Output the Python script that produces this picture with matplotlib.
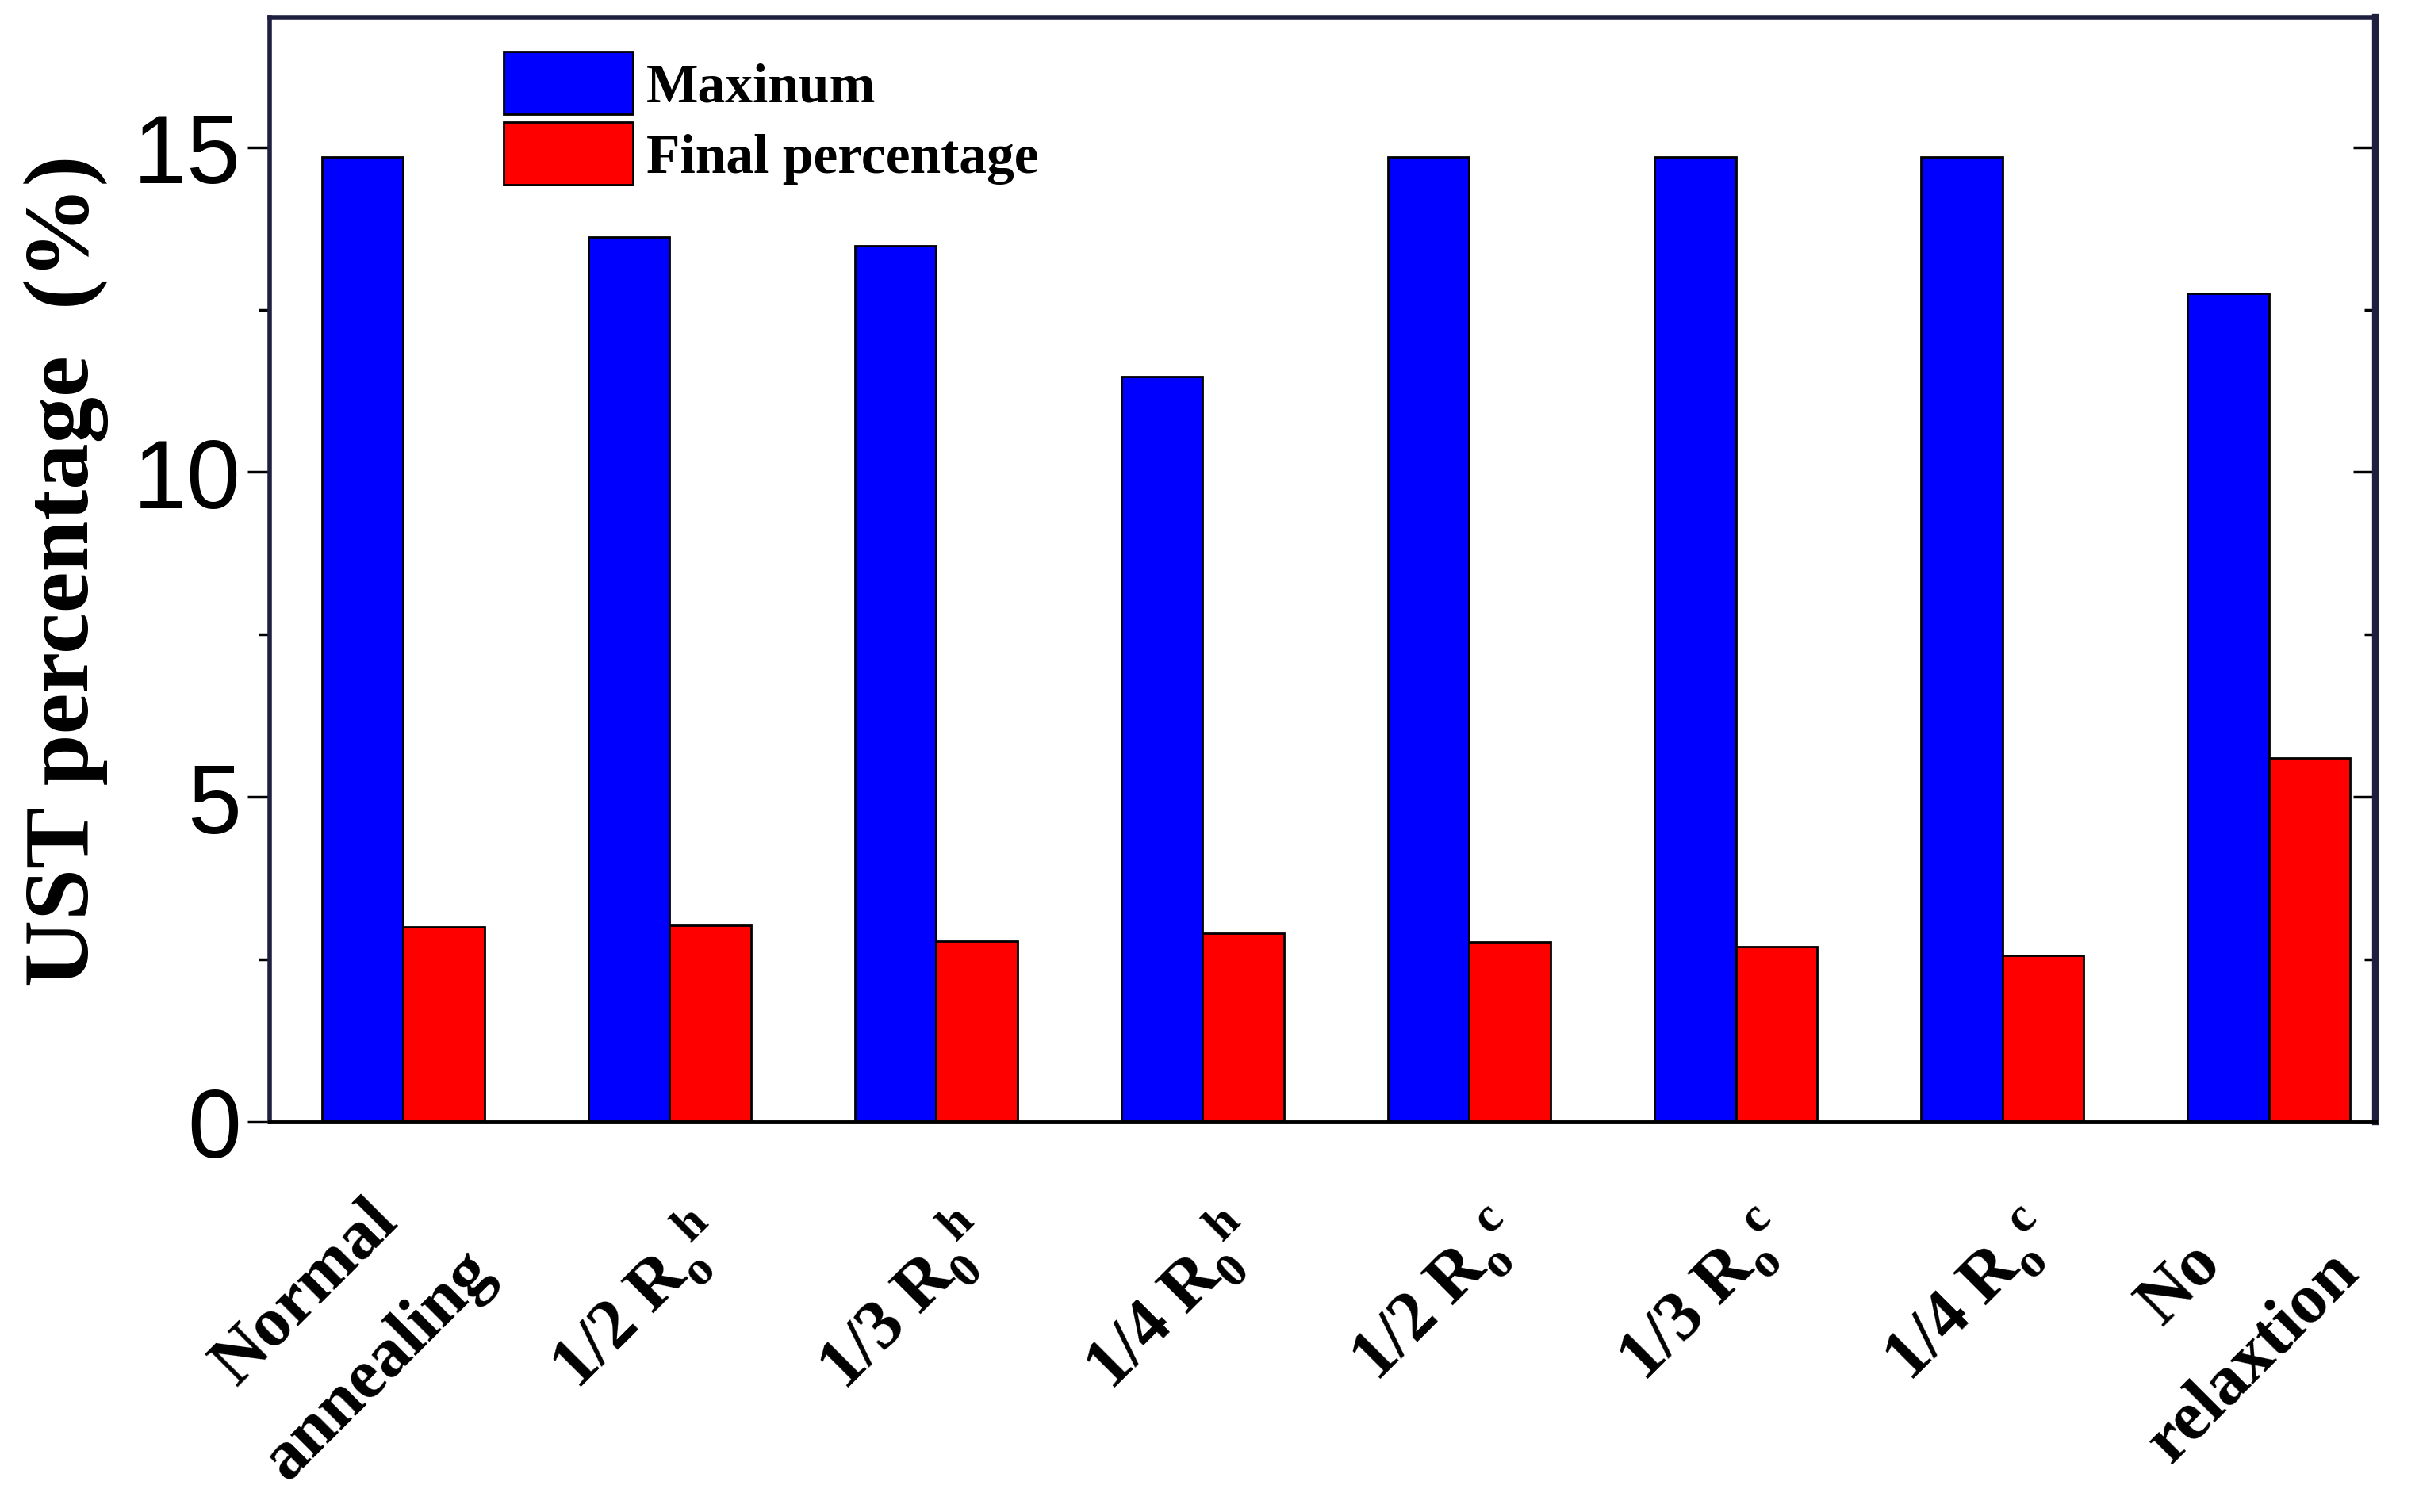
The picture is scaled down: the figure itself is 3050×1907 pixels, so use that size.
import matplotlib
matplotlib.use("Agg")
import matplotlib.pyplot as plt
import matplotlib.transforms as mtransforms
import numpy as np

categories = [
    "Normal\nannealing",
    r"1/2 R$_\mathrm{o}^{\ \ \mathrm{h}}$",
    r"1/3 R$_\mathrm{0}^{\ \ \mathrm{h}}$",
    r"1/4 R$_\mathrm{0}^{\ \ \mathrm{h}}$",
    r"1/2 R$_\mathrm{o}^{\ \ \mathrm{c}}$",
    r"1/3 R$_\mathrm{o}^{\ \ \mathrm{c}}$",
    r"1/4 R$_\mathrm{o}^{\ \ \mathrm{c}}$",
    "No\nrelaxtion",
]
maximum = [14.85, 13.62, 13.48, 11.47, 14.85, 14.85, 14.85, 12.75]
final = [3.00, 3.02, 2.78, 2.90, 2.77, 2.70, 2.56, 5.60]

plt.rcParams["mathtext.fontset"] = "custom"
plt.rcParams["mathtext.rm"] = "Liberation Serif:bold"
plt.rcParams["mathtext.it"] = "Liberation Serif:bold:italic"
plt.rcParams["mathtext.bf"] = "Liberation Serif:bold"

fig = plt.figure(figsize=(30.5, 19.08), dpi=100)
ax = fig.add_axes([0.1115, 0.258, 0.8705, 0.730])

x = np.arange(len(categories))
w = 0.305
ax.bar(x - w / 2, maximum, w, color="#0000ff", edgecolor="black", linewidth=2, label="Maxinum")
ax.bar(x + w / 2, final, w, color="#ff0000", edgecolor="black", linewidth=2, label="Final percentage")

ax.set_xlim(-0.5, 7.4)
ax.set_ylim(0, 17)
ax.set_yticks([0, 5, 10, 15])
ax.set_yticks(np.arange(2.5, 17, 5), minor=True)

# rotated category labels, right end anchored a bit right of / below each group
ax.set_xticks(x)
ax.set_xticklabels(categories, rotation=45, rotation_mode="anchor", ha="right", va="center",
                   multialignment="center", fontfamily="Liberation Serif",
                   fontweight="bold", fontsize=64, linespacing=1.8)
ax.tick_params(axis="x", length=0, pad=94)
shift = mtransforms.ScaledTranslation(0.54, 0, fig.dpi_scale_trans)
for lab in ax.get_xticklabels():
    lab.set_transform(lab.get_transform() + shift)

ax.tick_params(axis="y", which="major", direction="out", length=20, width=2.5,
               labelsize=88, pad=6, right=True)
ax.tick_params(axis="y", which="minor", direction="out", length=10, width=2.5, right=True)
for lab in ax.get_yticklabels():
    lab.set_fontfamily("Liberation Sans")
# right-side ticks point inward
for t in ax.yaxis.get_major_ticks() + ax.yaxis.get_minor_ticks():
    t.tick2line.set_marker(matplotlib.lines.TICKLEFT)

ax.set_ylabel("UST percentage  (%)", fontfamily="Liberation Serif", fontweight="bold",
              fontsize=84, labelpad=22)

for side in ["left", "top", "right"]:
    ax.spines[side].set_color("#1f2040")
ax.spines["left"].set_linewidth(4)
ax.spines["top"].set_linewidth(4)
ax.spines["right"].set_linewidth(6)
ax.spines["bottom"].set_linewidth(3.5)
ax.spines["bottom"].set_color("black")

ax.legend(loc="upper left", bbox_to_anchor=(0.111, 0.969), frameon=False,
          prop={"family": "Liberation Serif", "weight": "bold", "size": 50},
          handlelength=2.35, handleheight=1.37, labelspacing=0.15,
          handletextpad=0.25, borderpad=0, borderaxespad=0)

fig.savefig("out.png", dpi=100)
